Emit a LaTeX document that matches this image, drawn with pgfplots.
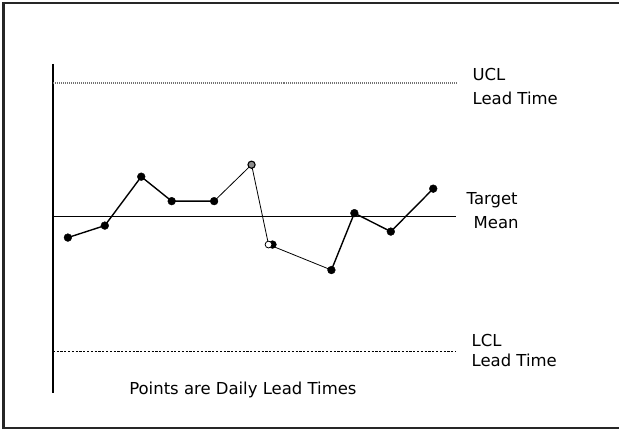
\documentclass[border=0pt]{standalone}
\usepackage{fontspec}
\setmainfont{DejaVu Sans}
\usepackage{pgfplots}
\pgfplotsset{compat=1.18}
\begin{document}
\begin{tikzpicture}
\begin{axis}[
  scale only axis, width=620bp, height=431bp,
  xmin=0, xmax=620, ymin=0, ymax=431,
  axis lines=none, clip=false,
]
% canvas
\path (axis cs:0,0) rectangle (axis cs:620,431);
% outer frame (open on the right, as in the reference)
\draw[line width=2.2bp, color=black!85] (axis cs:620,427.8) -- (axis cs:3.6,427.8) -- (axis cs:3.6,2.4) -- (axis cs:620,2.4);
% vertical axis line
\addplot[black, line width=1.9bp] coordinates {(52.7,367) (52.7,37)};
% UCL
\addplot[black!55, line width=1.3bp, dash pattern=on 1bp off 1bp] coordinates {(53,347.7) (458,347.7)};
% Target mean
\addplot[black, line width=0.9bp] coordinates {(53,214.3) (457,214.3)};
% LCL
\addplot[black, line width=0.6bp, dash pattern=on 2.2bp off 1.6bp] coordinates {(53,79) (457,79)};
% daily lead times: line segments
\addplot[black, line width=1.4bp] coordinates {(68,193) (105,205) (141.5,254) (172,229.5) (214.5,229.5)};
\addplot[black, line width=0.8bp] coordinates {(214.5,229.5) (252,266) (269,186) (332,160.5)};
\addplot[black, line width=1.4bp] coordinates {(332,160.5) (355,217.5) (391.5,199) (434,242)};
% markers
\addplot[only marks, mark=*, mark size=3.9bp, mark options={fill=black, draw=black}] coordinates {
(68,193) (105,205) (141.5,254) (172,229.5) (214.5,229.5) (273,186) (332,160.5) (355,217.5) (391.5,199) (434,242)};
\addplot[only marks, mark=*, mark size=3.6bp, mark options={fill=black!45, draw=black, line width=1.1bp}] coordinates {(252,266)};
\addplot[only marks, mark=*, mark size=3.4bp, mark options={fill=white, draw=black, line width=0.8bp}] coordinates {(269,186)};
% labels
\node[anchor=west, font=\fontsize{16.5bp}{19bp}\selectfont] at (axis cs:470,356) {UCL};
\node[anchor=west, font=\fontsize{16.5bp}{19bp}\selectfont] at (axis cs:470,332) {Lead Time};
\node[anchor=west, font=\fontsize{16.5bp}{19bp}\selectfont] at (axis cs:464,230.3) {Target};
\node[anchor=west, font=\fontsize{16.5bp}{19bp}\selectfont] at (axis cs:471,208.3) {Mean};
\node[anchor=west, font=\fontsize{16.5bp}{19bp}\selectfont] at (axis cs:469,90.3) {LCL};
\node[anchor=west, font=\fontsize{16.5bp}{19bp}\selectfont] at (axis cs:469,70) {Lead Time};
\node[anchor=west, font=\fontsize{16.5bp}{19bp}\selectfont] at (axis cs:126,40) {Points are Daily Lead Times};
\end{axis}
\end{tikzpicture}
\end{document}
